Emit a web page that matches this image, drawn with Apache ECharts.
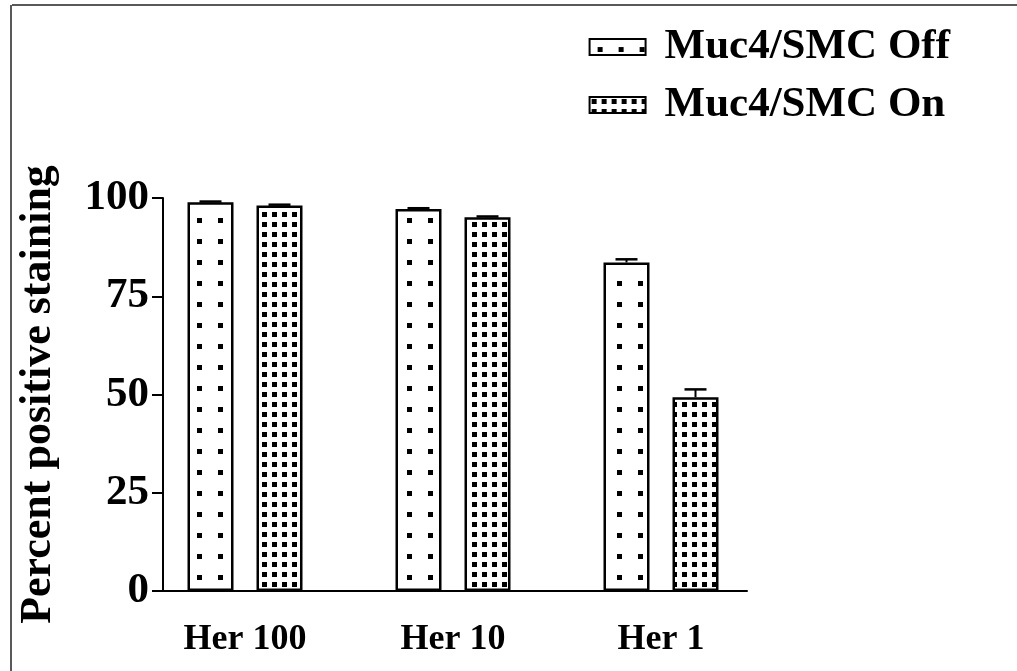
<!DOCTYPE html>
<html>
<head>
<meta charset="utf-8">
<script src="https://cdn.jsdelivr.net/npm/echarts@6/dist/echarts.min.js"></script>
<style>
  html, body { margin: 0; padding: 0; background: #fff; }
  #chart { width: 1017px; height: 671px; }
</style>
</head>
<body>
<div id="chart"></div>
<script>
// data
var categories = ['Her 100', 'Her 10', 'Her 1'];
var seriesNames = ['Muc4/SMC Off', 'Muc4/SMC On'];
var offValues = [98.9, 97.2, 83.6];
var offErrors = [0.2, 0.2, 0.8];
var onValues = [98.1, 95.1, 49.3];
var onErrors = [0.2, 0.2, 2.0];
var yTicks = [0, 25, 50, 75, 100];

var FONT = "'Liberation Serif', 'Times New Roman', serif";

// dotted fills
function makePattern (size, dot) {
  var c = document.createElement('canvas');
  c.width = size;
  c.height = size;
  var ctx = c.getContext('2d');
  ctx.fillStyle = '#fff';
  ctx.fillRect(0, 0, size, size);
  ctx.fillStyle = '#000';
  var p = Math.floor((size - dot) / 2);
  ctx.fillRect(p, p, dot, dot);
  return c;
}
var sparseDots = makePattern(21, 5);
var denseDots = makePattern(10, 5);

var BAR_W = 46;
var HALF_SHIFT = (BAR_W + BAR_W * 0.5) / 2;

function errData (vals, errs) {
  return vals.map(function (v, i) { return [i, v, errs[i]]; });
}

function errRender (shift) {
  return function (params, api) {
    var idx = api.value(0);
    var top = api.coord([idx, api.value(1) + api.value(2)]);
    var base = api.coord([idx, api.value(1)]);
    var x = top[0] + shift;
    return {
      type: 'group',
      children: [
        { type: 'line', shape: { x1: x, y1: base[1], x2: x, y2: top[1] }, style: { stroke: '#000', lineWidth: 2 } },
        { type: 'line', shape: { x1: x - 11, y1: top[1], x2: x + 11, y2: top[1] }, style: { stroke: '#000', lineWidth: 2.5 } }
      ]
    };
  };
}

var chart = echarts.init(document.getElementById('chart'));
chart.setOption({
  animation: false,
  backgroundColor: '#fff',
  legend: {
    orient: 'vertical',
    right: 62,
    top: 19,
    icon: 'rect',
    itemWidth: 56,
    itemHeight: 16,
    itemGap: 12,
    data: seriesNames,
    textStyle: { fontFamily: FONT, fontWeight: 'bold', fontSize: 43, color: '#000', lineHeight: 46, padding: [0, 0, 0, 14] }
  },
  grid: [
    { left: 141, width: 624, top: 198, height: 393 },
    { left: 163, width: 584, top: 198, height: 393 }
  ],
  xAxis: [
    {
      type: 'category',
      gridIndex: 0,
      data: categories,
      axisLine: { show: false },
      axisTick: { show: false },
      axisLabel: { margin: 31, fontFamily: FONT, fontWeight: 'bold', fontSize: 36, color: '#000' }
    },
    {
      type: 'value',
      gridIndex: 1,
      min: 0,
      max: 1,
      axisLine: { show: true, lineStyle: { color: '#000', width: 2 } },
      axisTick: { show: false },
      axisLabel: { show: false },
      splitLine: { show: false }
    }
  ],
  yAxis: [
    {
      type: 'value',
      gridIndex: 1,
      min: yTicks[0],
      max: yTicks[yTicks.length - 1],
      interval: 25,
      name: 'Percent positive staining',
      nameLocation: 'middle',
      nameGap: 102,
      nameTextStyle: { fontFamily: FONT, fontWeight: 'bold', fontSize: 44, color: '#000' },
      axisLine: { show: true, lineStyle: { color: '#000', width: 2 } },
      axisTick: { show: true, length: 11, lineStyle: { color: '#000', width: 2 } },
      axisLabel: { margin: 14, fontFamily: FONT, fontWeight: 'bold', fontSize: 43, color: '#000' },
      splitLine: { show: false }
    },
    {
      type: 'value',
      gridIndex: 0,
      min: 0,
      max: 100,
      show: false
    }
  ],
  series: [
    {
      name: seriesNames[0],
      type: 'bar',
      xAxisIndex: 0,
      yAxisIndex: 1,
      barWidth: BAR_W,
      barGap: '50%',
      data: offValues,
      itemStyle: { color: { image: sparseDots, repeat: 'repeat' }, borderColor: '#000', borderWidth: 2.5 }
    },
    {
      name: seriesNames[1],
      type: 'bar',
      xAxisIndex: 0,
      yAxisIndex: 1,
      barWidth: BAR_W,
      barGap: '50%',
      data: onValues,
      itemStyle: { color: { image: denseDots, repeat: 'repeat' }, borderColor: '#000', borderWidth: 2.5 }
    },
    {
      type: 'custom',
      xAxisIndex: 0,
      yAxisIndex: 1,
      renderItem: errRender(-HALF_SHIFT),
      data: errData(offValues, offErrors),
      z: 3
    },
    {
      type: 'custom',
      xAxisIndex: 0,
      yAxisIndex: 1,
      renderItem: errRender(HALF_SHIFT),
      data: errData(onValues, onErrors),
      z: 3
    }
  ],
  graphic: [
    { type: 'line', shape: { x1: 12, y1: 5, x2: 1017, y2: 5 }, style: { stroke: '#222', lineWidth: 1.5 } },
    { type: 'line', shape: { x1: 11, y1: 5, x2: 11, y2: 671 }, style: { stroke: '#222', lineWidth: 1.5 } }
  ]
});
</script>
</body>
</html>
